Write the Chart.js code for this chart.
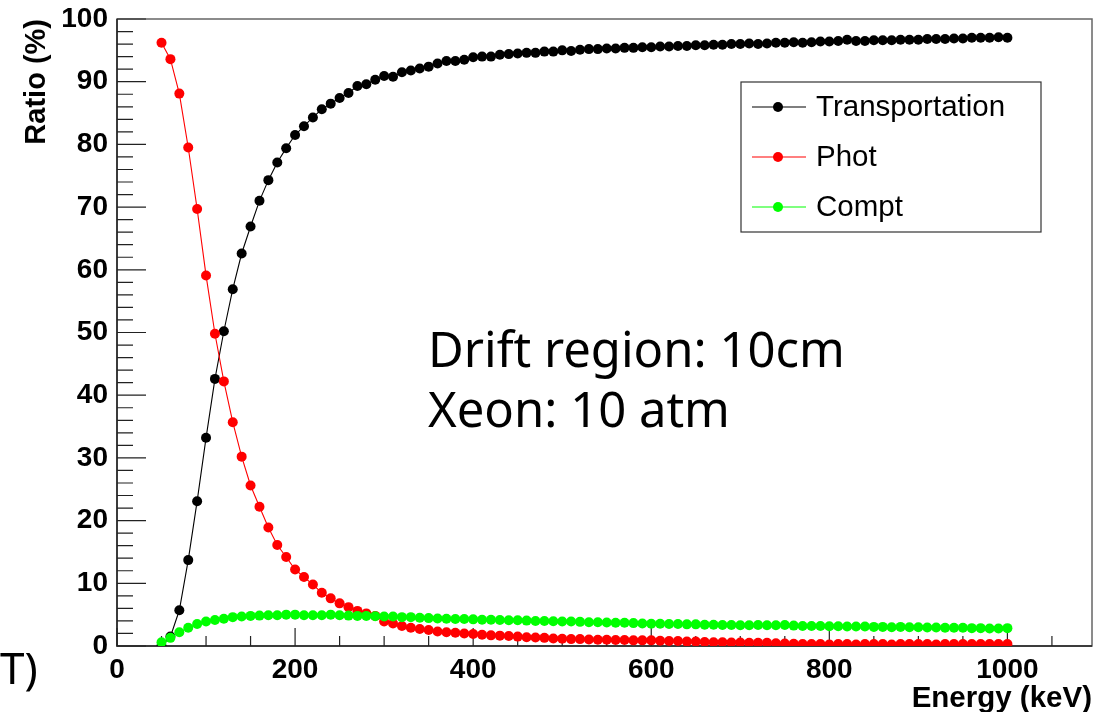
<!DOCTYPE html>
<html><head><meta charset="utf-8">
<script src="https://cdn.jsdelivr.net/npm/chart.js@4/dist/chart.umd.min.js"></script>
<style>html,body{margin:0;padding:0;background:#fff;overflow:hidden;}#wrap{width:1114px;height:712px;position:relative;}</style>
</head><body><div id="wrap"><canvas id="c" width="1114" height="712"></canvas></div>
<script>
const energies = [50,60,70,80,90,100,110,120,130,140,150,160,170,180,190,200,210,220,230,240,250,260,270,280,290,300,310,320,330,340,350,360,370,380,390,400,410,420,430,440,450,460,470,480,490,500,510,520,530,540,550,560,570,580,590,600,610,620,630,640,650,660,670,680,690,700,710,720,730,740,750,760,770,780,790,800,810,820,830,840,850,860,870,880,890,900,910,920,930,940,950,960,970,980,990,1000];
const transportation = [0.0,1.5,5.7,13.7,23.1,33.2,42.6,50.2,56.9,62.6,66.9,71.0,74.3,77.1,79.4,81.5,82.9,84.3,85.6,86.5,87.4,88.2,89.3,89.6,90.3,90.9,90.8,91.5,91.8,92.1,92.4,92.9,93.3,93.3,93.5,93.9,94.0,94.0,94.3,94.4,94.5,94.6,94.6,94.8,94.8,95.0,94.9,95.1,95.2,95.2,95.3,95.3,95.4,95.4,95.5,95.5,95.6,95.6,95.7,95.7,95.8,95.8,95.9,95.9,96.0,96.0,96.1,96.0,96.1,96.2,96.2,96.3,96.2,96.3,96.4,96.4,96.5,96.7,96.5,96.5,96.6,96.6,96.6,96.7,96.7,96.7,96.8,96.8,96.8,96.9,96.9,97.0,97.0,97.0,97.1,97.0];
const phot = [96.2,93.6,88.1,79.5,69.7,59.1,49.8,42.2,35.7,30.2,25.6,22.2,18.9,16.1,14.2,12.2,11.0,9.8,8.5,7.6,6.8,6.2,5.6,5.2,4.8,3.9,3.6,3.2,2.9,2.7,2.55,2.3,2.2,2.1,2.0,1.9,1.8,1.7,1.65,1.6,1.5,1.4,1.35,1.3,1.2,1.15,1.1,1.1,1.05,1.0,1.0,0.95,0.95,0.9,0.9,0.9,0.85,0.8,0.8,0.7,0.7,0.65,0.6,0.6,0.55,0.55,0.5,0.5,0.5,0.45,0.4,0.35,0.3,0.3,0.3,0.25,0.3,0.3,0.25,0.3,0.3,0.3,0.25,0.3,0.3,0.3,0.3,0.25,0.3,0.3,0.3,0.3,0.3,0.3,0.3,0.3];
const compt = [0.6,1.3,2.2,2.9,3.5,3.9,4.15,4.35,4.6,4.7,4.8,4.85,4.9,4.9,5.0,5.0,4.9,4.9,4.9,5.0,4.9,4.85,4.8,4.8,4.75,4.7,4.7,4.6,4.6,4.5,4.45,4.4,4.35,4.3,4.3,4.25,4.2,4.2,4.15,4.1,4.1,4.05,4.0,4.0,3.95,3.9,3.9,3.85,3.8,3.8,3.75,3.7,3.7,3.65,3.6,3.55,3.55,3.5,3.5,3.45,3.45,3.4,3.4,3.35,3.35,3.3,3.3,3.35,3.3,3.3,3.35,3.25,3.2,3.2,3.2,3.15,3.15,3.1,3.1,3.1,3.05,3.05,3.0,3.05,3.0,3.0,2.95,2.95,2.9,2.9,2.9,2.85,2.85,2.8,2.8,2.85];
const seriesNames = ['Transportation','Phot','Compt'];
const seriesColors = ['#000000','#ff0000','#00ff00'];
const xTickValues = [0,200,400,600,800,1000];
const yTickValues = [0,10,20,30,40,50,60,70,80,90,100];
const xTitle = 'Energy (keV)';
const yTitle = 'Ratio (%)';
const annotationLines = ['Drift region: 10cm','Xeon: 10 atm'];
const cornerText = 'T)';

const seriesValues = [transportation, phot, compt];
const datasets = seriesNames.map((name, i) => ({
  label: name,
  data: energies.map((e, k) => ({x: e, y: seriesValues[i][k]})),
  borderColor: seriesColors[i],
  backgroundColor: seriesColors[i],
  pointBackgroundColor: seriesColors[i],
  pointBorderWidth: 0,
  pointRadius: 5,
  borderWidth: 1.1,
  tension: 0,
  order: 3 - i
}));

const fam = "'Liberation Sans', Arial, sans-serif";
const axisFont = {family: fam, weight: 'bold', size: 28};

const rootPlugin = {
  id: 'rootStyle',
  beforeDatasetsDraw(chart) {
    const {ctx, chartArea: a, scales: {x, y}} = chart;
    ctx.save();
    ctx.strokeStyle = '#666';
    ctx.lineWidth = 1.5;
    ctx.strokeRect(a.left, a.top, a.right - a.left, a.bottom - a.top);
    ctx.strokeStyle = '#222';
    ctx.lineWidth = 1.5;
    ctx.beginPath();
    ctx.moveTo(a.left, a.top); ctx.lineTo(a.left, a.bottom); ctx.lineTo(a.right, a.bottom);
    ctx.stroke();
    ctx.lineWidth = 1.2;
    ctx.beginPath();
    for (let v = 0; v <= x.max; v += 50) {
      const px = x.getPixelForValue(v);
      const len = (v % 200 === 0) ? 18 : 10;
      ctx.moveTo(px, a.bottom); ctx.lineTo(px, a.bottom - len);
    }
    for (let v = 0; v <= 100; v += 2) {
      const py = y.getPixelForValue(v);
      const len = (v % 10 === 0) ? 29 : 16;
      ctx.moveTo(a.left, py); ctx.lineTo(a.left + len, py);
    }
    ctx.stroke();
    ctx.restore();
  },
  afterDraw(chart) {
    const {ctx} = chart;
    ctx.save();
    const bx = 741, by = 82, bw = 300, bh = 150;
    ctx.fillStyle = '#fff';
    ctx.fillRect(bx, by, bw, bh);
    ctx.strokeStyle = '#333';
    ctx.lineWidth = 1.2;
    ctx.strokeRect(bx, by, bw, bh);
    ctx.font = "29.5px " + fam;
    ctx.textBaseline = 'middle';
    ctx.textAlign = 'left';
    chart.data.datasets.forEach((ds, i) => {
      const ry = 107 + i * 50;
      ctx.strokeStyle = ds.borderColor;
      ctx.lineWidth = 1.1;
      ctx.beginPath(); ctx.moveTo(752, ry); ctx.lineTo(806, ry); ctx.stroke();
      ctx.fillStyle = ds.borderColor;
      ctx.beginPath(); ctx.arc(778, ry, 5, 0, Math.PI * 2); ctx.fill();
      ctx.fillStyle = '#000';
      ctx.fillText(ds.label, 816, ry + 1);
    });
    ctx.font = "49px 'Noto Sans', 'Open Sans', sans-serif";
    ctx.textBaseline = 'alphabetic';
    ctx.fillStyle = '#000';
    ctx.fillText(annotationLines[0], 428, 367);
    ctx.fillText(annotationLines[1], 428, 427);
    ctx.font = "44px 'Noto Sans', 'Open Sans', sans-serif";
    ctx.fillText(cornerText, 0, 684);
    ctx.restore();
  }
};

new Chart(document.getElementById('c'), {
  type: 'line',
  data: {datasets},
  options: {
    responsive: false,
    animation: false,
    devicePixelRatio: 1,
    layout: {padding: {left: 0, right: 22, top: 19, bottom: 0}},
    plugins: {legend: {display: false}, tooltip: {enabled: false}},
    scales: {
      x: {
        type: 'linear', min: 0, max: 1095,
        grid: {display: false, drawTicks: false},
        border: {display: false},
        afterFit(s) { s.height = 66; s.paddingLeft = 0; s.paddingRight = 0; },
        afterBuildTicks(s) { s.ticks = xTickValues.map(v => ({value: v})); },
        ticks: {font: axisFont, color: '#000', padding: 7, maxRotation: 0, autoSkip: false, includeBounds: false, callback: v => String(v)},
        title: {display: true, text: xTitle, align: 'end', color: '#000', font: {family: fam, weight: 'bold', size: 29.5}, padding: {top: 0, bottom: -5}}
      },
      y: {
        type: 'linear', min: 0, max: 100,
        grid: {display: false, drawTicks: false},
        border: {display: false},
        afterFit(s) { s.width = 117; s.paddingTop = 0; s.paddingBottom = 0; },
        afterBuildTicks(s) { s.ticks = yTickValues.map(v => ({value: v})); },
        ticks: {font: axisFont, color: '#000', padding: 9, callback: v => String(v)},
        title: {display: true, text: yTitle, align: 'end', color: '#000', font: {family: fam, weight: 'bold', size: 29}, padding: {top: 20, bottom: 0}}
      }
    }
  },
  plugins: [rootPlugin]
});
</script>
</body></html>
